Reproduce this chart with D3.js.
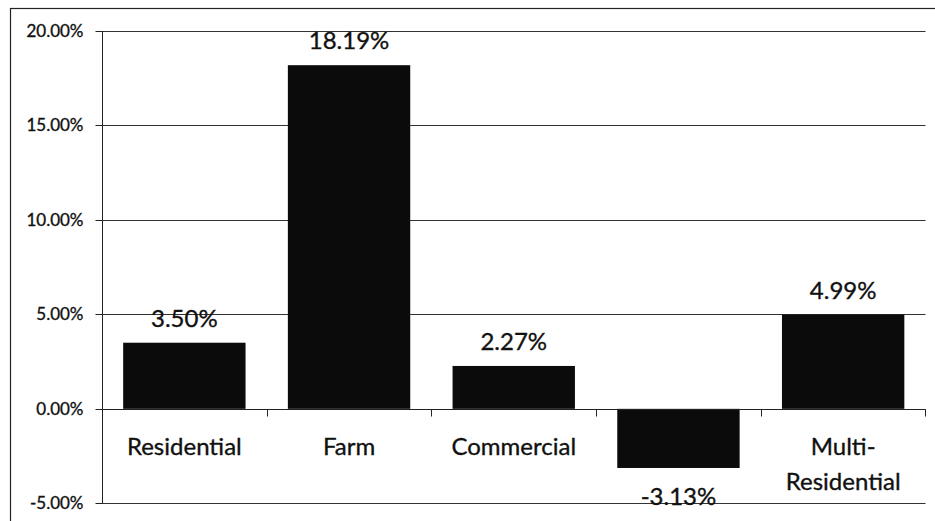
<!DOCTYPE html>
<html><head><meta charset="utf-8">
<script src="https://cdn.jsdelivr.net/npm/d3@7"></script>
<style>
html,body{margin:0;padding:0;background:#fff;}
svg{display:block;}
text{font-family:Lato, "Open Sans", sans-serif;fill:#111;stroke:#111;stroke-width:0.35px;}
</style></head>
<body>
<script>
const categories = ["Residential", "Farm", "Commercial", "", "Multi-Residential"];
const categoryLines = [["Residential"], ["Farm"], ["Commercial"], [""], ["Multi-", "Residential"]];
const values = [3.50, 18.19, 2.27, -3.13, 4.99];
const valueLabels = ["3.50%", "18.19%", "2.27%", "-3.13%", "4.99%"];
const yTicks = [-5, 0, 5, 10, 15, 20];

(function () {
const W = 935, H = 521;
const svg = d3.select("body").append("svg").attr("width", W).attr("height", H);

// outer frame (top and left edges visible)
svg.append("rect").attr("x", 10.5).attr("y", 8.5).attr("width", 940).attr("height", 540)
  .attr("fill", "none").attr("stroke", "#222").attr("stroke-width", 1.2);

const mLeft = 102, mRight = 925.5, mTop = 31, mBottom = 503.3;
const y = d3.scaleLinear().domain([-5, 20]).range([mBottom, mTop]);
const x = d3.scaleBand().domain(d3.range(categories.length)).range([mLeft, mRight])
  .paddingInner(0.257).paddingOuter(0.1285);

// gridlines
svg.append("g").selectAll("line").data(yTicks).join("line")
  .attr("x1", mLeft).attr("x2", mRight)
  .attr("y1", d => Math.round(y(d)) + 0.5).attr("y2", d => Math.round(y(d)) + 0.5)
  .attr("stroke", "#333").attr("stroke-width", 1.1);

// y axis
const yAxis = d3.axisLeft(y).tickValues(yTicks).tickSize(7).tickFormat(d => d.toFixed(2) + "%");
const gy = svg.append("g").attr("transform", `translate(${mLeft + 0.5},0)`).call(yAxis);
gy.select(".domain").attr("stroke", "#222").attr("d", `M0,${Math.round(y(20))}V${Math.round(y(-5))+1}`);
gy.selectAll(".tick").attr("transform", d => `translate(0,${Math.round(y(d)) + 0.5})`);
gy.selectAll(".tick line").attr("stroke", "#222");
gy.selectAll(".tick text").attr("x", -19).attr("font-size", "17px").attr("font-family", "Lato").attr("fill", "#111");

// bars
svg.append("g").selectAll("rect").data(values).join("rect")
  .attr("x", (d, i) => x(i)).attr("width", x.bandwidth())
  .attr("y", d => y(Math.max(0, d))).attr("height", d => Math.abs(y(d) - y(0)))
  .attr("fill", "#0b0b0b");

// x axis at zero with boundary ticks
const y0 = Math.round(y(0)) + 0.5;
svg.append("line").attr("x1", mLeft).attr("x2", mRight).attr("y1", y0).attr("y2", y0)
  .attr("stroke", "#222").attr("stroke-width", 1.2);
const step = x.step();
svg.append("g").selectAll("line").data(d3.range(1, categories.length + 1)).join("line")
  .attr("x1", i => Math.round(x(i - 1) + x.bandwidth() + x.paddingInner() * step / 2) + 0.5)
  .attr("x2", i => Math.round(x(i - 1) + x.bandwidth() + x.paddingInner() * step / 2) + 0.5)
  .attr("y1", y0).attr("y2", y0 + 7).attr("stroke", "#222");

// category labels
const cg = svg.append("g").selectAll("text").data(categoryLines).join("text")
  .attr("text-anchor", "middle").attr("font-size", "24px")
  .attr("x", (d, i) => x(i) + x.bandwidth() / 2).attr("y", 455);
cg.selectAll("tspan").data(d => d).join("tspan")
  .attr("x", function () { return this.parentNode.getAttribute("x"); })
  .attr("dy", (d, j) => j === 0 ? 0 : 35).text(d => d);

// value labels
svg.append("g").selectAll("text").data(values).join("text")
  .attr("text-anchor", "middle").attr("font-size", "24px")
  .attr("x", (d, i) => x(i) + x.bandwidth() / 2)
  .attr("y", d => d >= 0 ? y(d) - 16 : y(d) + 37)
  .text((d, i) => valueLabels[i]);
})();
</script>
</body></html>
